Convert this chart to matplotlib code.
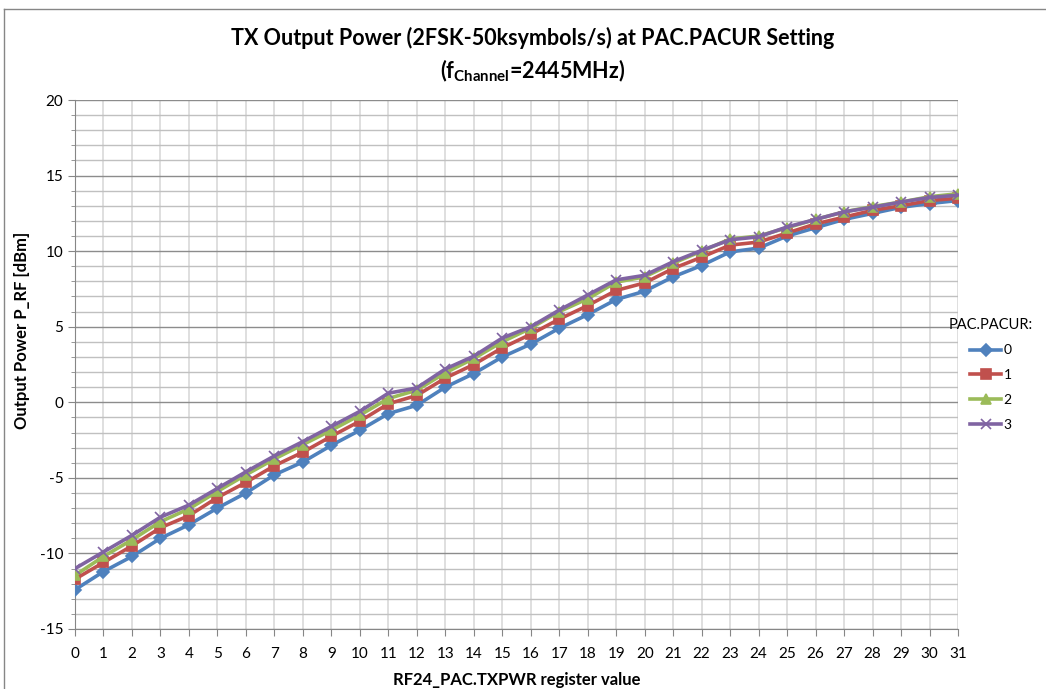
import matplotlib
matplotlib.use("Agg")
import matplotlib.pyplot as plt
from matplotlib import font_manager
from matplotlib.lines import Line2D
from matplotlib.ticker import MultipleLocator

# pick a Calibri-like face if one is around
names = {f.name for f in font_manager.fontManager.ttflist}
FONT = next((n for n in ["Lato", "Liberation Sans Narrow", "Open Sans"] if n in names), "DejaVu Sans")
plt.rcParams['font.family'] = [FONT, 'DejaVu Sans']
plt.rcParams['mathtext.fontset'] = 'custom'
plt.rcParams['mathtext.bf'] = FONT + ':bold'
plt.rcParams['mathtext.rm'] = FONT
plt.rcParams['axes.unicode_minus'] = False

txpwr = list(range(32))
pacur_0 = [-12.4, -11.2, -10.2, -9.0, -8.1, -7.0, -6.0, -4.8, -3.95, -2.85, -1.85, -0.75,
           -0.2, 1.0, 1.9, 3.0, 3.85, 4.9, 5.8, 6.8, 7.35, 8.3, 9.05, 9.95,
           10.2, 11.0, 11.55, 12.1, 12.5, 12.9, 13.15, 13.35]
pacur_1 = [-11.7, -10.6, -9.5, -8.3, -7.5, -6.3, -5.3, -4.2, -3.3, -2.25, -1.25, -0.1,
           0.45, 1.6, 2.5, 3.6, 4.5, 5.5, 6.4, 7.4, 7.9, 8.85, 9.6, 10.4,
           10.6, 11.2, 11.8, 12.25, 12.7, 13.0, 13.35, 13.5]
pacur_2 = [-11.45, -10.2, -9.1, -7.9, -7.05, -5.9, -4.8, -3.75, -2.8, -1.85, -0.85, 0.25,
           0.8, 1.95, 2.9, 4.0, 4.9, 6.0, 6.85, 7.95, 8.3, 9.2, 10.0, 10.8,
           11.0, 11.55, 12.1, 12.6, 12.95, 13.25, 13.6, 13.8]
pacur_3 = [-11.0, -9.9, -8.8, -7.6, -6.8, -5.7, -4.6, -3.55, -2.6, -1.6, -0.6, 0.6,
           0.95, 2.2, 3.05, 4.25, 5.0, 6.1, 7.1, 8.1, 8.4, 9.3, 10.05, 10.75,
           10.95, 11.6, 12.1, 12.6, 12.9, 13.25, 13.55, 13.7]
series_labels = ['0', '1', '2', '3']

W, H = 1046, 689
fig = plt.figure(figsize=(W / 100, H / 100), dpi=100)
ax = fig.add_axes([75 / W, 1 - 629 / H, 883 / W, 529 / H])

styles = [
    (pacur_0, '#4F81BD', 'D', 6.5),
    (pacur_1, '#C0504D', 's', 7),
    (pacur_2, '#9BBB59', '^', 7.5),
    (pacur_3, '#8064A2', 'x', 6.5),
]
for (vals, col, mk, ms), lab in zip(styles, series_labels):
    ax.plot(txpwr, vals, color=col, lw=2.6, marker=mk, ms=ms, mew=1.2,
            mec=col, mfc=col, label=lab, zorder=3)

ax.set_xlim(0, 31)
ax.set_ylim(-15, 20)
ax.xaxis.set_major_locator(MultipleLocator(1))
ax.yaxis.set_major_locator(MultipleLocator(5))
ax.yaxis.set_minor_locator(MultipleLocator(1))

ax.grid(which='major', axis='x', color='#D9D9D9', lw=1.2)
ax.grid(which='minor', axis='y', color='#C0C0C0', lw=1.0)
ax.grid(which='major', axis='y', color='#8C8C8C', lw=1.0)
ax.set_axisbelow(True)

for s in ['top', 'right']:
    ax.spines[s].set_visible(False)
for s in ['left', 'bottom']:
    ax.spines[s].set_color('#868686')
ax.tick_params(axis='both', which='major', colors='#868686', labelcolor='black',
               labelsize=11, length=5)
ax.tick_params(axis='y', which='minor', colors='#868686', length=3)
ax.tick_params(axis='x', pad=8)

ax.set_xlabel('RF24_PAC.TXPWR register value', fontsize=12, fontweight='bold', labelpad=8)
fig.text(22 / W, 1 - 330 / H, 'Output Power P_RF [dBm]', rotation=90, fontsize=12,
         fontweight='bold', ha='center', va='center')

fig.text(533 / W, 1 - 38 / H, 'TX Output Power (2FSK-50ksymbols/s) at PAC.PACUR Setting',
         fontsize=15.5, fontweight='bold', ha='center', va='center')
fig.text(533 / W, 1 - 71 / H, r'(f$_{\mathbf{Channel}}$=2445MHz)',
         fontsize=15.5, fontweight='bold', ha='center', va='center')

leg = ax.legend(title='PAC.PACUR:', loc='upper left', bbox_to_anchor=(949 / W, 1 - 318 / H),
                bbox_transform=fig.transFigure, frameon=False, fontsize=10,
                title_fontsize=10.5, handlelength=2.2, labelspacing=0.92,
                handletextpad=0.2, borderpad=0, borderaxespad=0)
leg._legend_box.sep = 9

# chart area border
fig.add_artist(Line2D([4 / W, 1], [1 - 9 / H, 1 - 9 / H], transform=fig.transFigure,
                      color='#868686', lw=1))
fig.add_artist(Line2D([4 / W, 4 / W], [0, 1 - 9 / H], transform=fig.transFigure,
                      color='#868686', lw=1))

fig.savefig('out.png', dpi=100)
